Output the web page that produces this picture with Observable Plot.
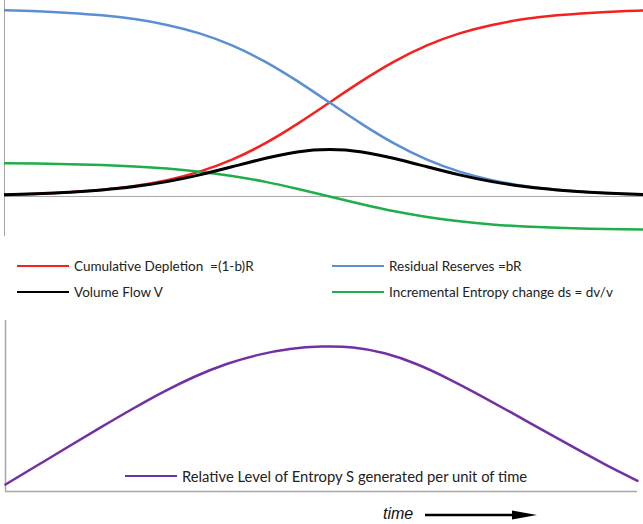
<!DOCTYPE html>
<html>
<head>
<meta charset="utf-8">
<script src="https://cdn.jsdelivr.net/npm/d3@7"></script>
<script src="https://cdn.jsdelivr.net/npm/@observablehq/plot@0.6"></script>
<style>
  html, body { margin: 0; padding: 0; background: #fff; }
  body { width: 643px; height: 524px; overflow: hidden; position: relative; font-family: Lato, "Open Sans", sans-serif; color: #222; }
  #top { position: absolute; left: 0; top: 0; }
  #bottom { position: absolute; left: 0; top: 318px; }
  .leg { position: absolute; display: flex; align-items: center; font-size: 13.5px; white-space: pre; height: 18px; }
  .leg .sw { display: inline-block; width: 52px; height: 2.5px; margin-right: 5px; }
  .leg.big { font-size: 14.8px; }
  #time { position: absolute; left: 383px; top: 505px; font-family: "Liberation Sans", Arial, sans-serif; font-style: italic; font-size: 16px; color: #111; }
  #arrow { position: absolute; left: 420px; top: 506px; }
</style>
</head>
<body>
<div id="top"></div>
<div id="bottom"></div>
<div id="legends"></div>
<div id="time">time</div>
<svg id="arrow" width="125" height="20"><line x1="5" y1="9" x2="95" y2="9" stroke="#000" stroke-width="2.5"/><polygon points="92,4.5 117,9 92,13.5" fill="#000"/></svg>
<script>
// ---- data ----
const time = [0,1,2,3,4,5,6,7,8,9,10,11,12,13,14,15,16,17,18,19,20];
const cumulativeDepletion = [0.009,0.014,0.023,0.036,0.056,0.087,0.132,0.196,0.281,0.385,0.5,0.615,0.719,0.804,0.868,0.913,0.944,0.964,0.977,0.986,0.991];
const residualReserves   = [0.991,0.986,0.977,0.964,0.944,0.913,0.868,0.804,0.719,0.615,0.5,0.385,0.281,0.196,0.132,0.087,0.056,0.036,0.023,0.014,0.009];
const volumeFlow         = [0.009,0.014,0.022,0.035,0.053,0.079,0.115,0.158,0.202,0.237,0.25,0.237,0.202,0.158,0.115,0.079,0.053,0.035,0.022,0.014,0.009];
const entropyChange      = [0.177,0.175,0.172,0.167,0.160,0.149,0.132,0.109,0.079,0.041,0,-0.041,-0.079,-0.109,-0.132,-0.149,-0.160,-0.167,-0.172,-0.175,-0.177];
const entropyLevel       = [0.048,0.179,0.310,0.440,0.567,0.687,0.793,0.879,0.942,0.982,0.999,0.993,0.953,0.879,0.779,0.665,0.545,0.423,0.302,0.184,0.074];

const seriesNames = ["Cumulative Depletion  =(1-b)R", "Residual Reserves =bR", "Volume Flow V", "Incremental Entropy change ds = dv/v"];
const seriesColors = ["#f5211f", "#5b8fd3", "#000000", "#1fae4a"];
const bottomName = "Relative Level of Entropy S generated per unit of time";
const bottomColor = "#7231a3";
const axisColor = "#a6a6a6";

const topSeries = [cumulativeDepletion, residualReserves, volumeFlow, entropyChange];
const toRows = (vals) => time.map((t, i) => ({t, v: vals[i]}));

// draw order: red, blue, green, black
const order = [0, 1, 3, 2];
const topPlot = Plot.plot({
  width: 643, height: 240,
  marginLeft: 4, marginRight: 0, marginTop: 0, marginBottom: 4,
  x: {domain: [0, 19.66], axis: null},
  y: {domain: [-0.213, 1.043], axis: null},
  marks: [
    Plot.ruleY([0], {stroke: axisColor, strokeWidth: 1}),
    Plot.ruleX([0], {stroke: axisColor, strokeWidth: 1}),
    ...order.map(k => Plot.line(toRows(topSeries[k]), {
      x: "t", y: "v", stroke: seriesColors[k],
      strokeWidth: k === 2 ? 3 : 2.5, curve: "natural", clip: true
    }))
  ]
});
document.getElementById("top").appendChild(topPlot);

const bottomPlot = Plot.plot({
  width: 643, height: 176,
  marginLeft: 5, marginRight: 6, marginTop: 2, marginBottom: 3,
  x: {domain: [0, 20], axis: null},
  y: {domain: [0, 1.179], axis: null},
  marks: [
    Plot.ruleY([0], {stroke: axisColor, strokeWidth: 1.5}),
    Plot.ruleX([0], {stroke: axisColor, strokeWidth: 1.5}),
    Plot.line(toRows(entropyLevel), {x: "t", y: "v", stroke: bottomColor, strokeWidth: 2.5, curve: "natural"})
  ]
});
document.getElementById("bottom").appendChild(bottomPlot);

// legends
const legendSpecs = [
  {k: 0, left: 17, top: 257},
  {k: 1, left: 332, top: 257},
  {k: 2, left: 17, top: 283},
  {k: 3, left: 332, top: 283},
];
const legends = document.getElementById("legends");
function addLegend(name, color, left, top, cls) {
  const d = document.createElement("div");
  d.className = "leg" + (cls ? " " + cls : "");
  d.style.left = left + "px";
  d.style.top = top + "px";
  const sw = document.createElement("span");
  sw.className = "sw";
  sw.style.background = color;
  const tx = document.createElement("span");
  tx.textContent = name;
  d.appendChild(sw); d.appendChild(tx);
  legends.appendChild(d);
}
legendSpecs.forEach(s => addLegend(seriesNames[s.k], seriesColors[s.k], s.left, s.top));
addLegend(bottomName, bottomColor, 125, 467, "big");
</script>
</body>
</html>
